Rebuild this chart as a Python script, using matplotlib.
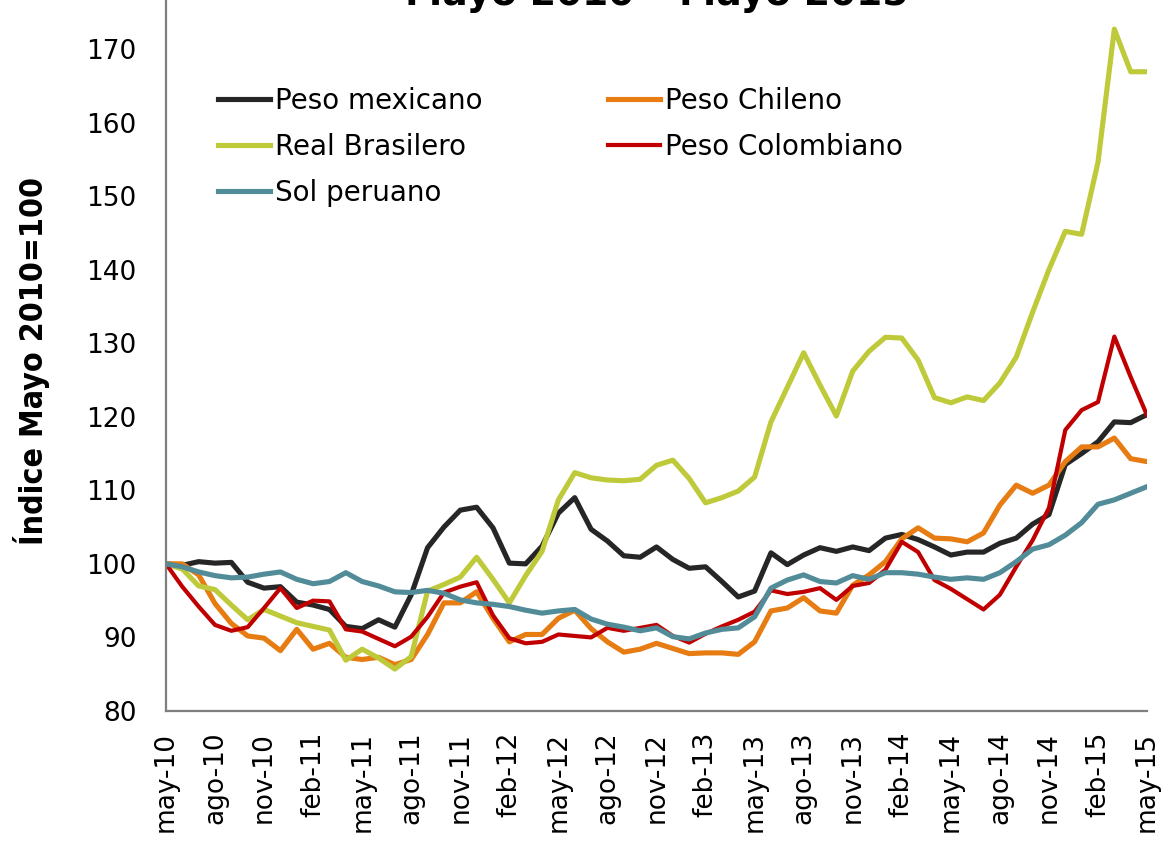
import numpy as np
import matplotlib
matplotlib.use("Agg")
import matplotlib.pyplot as plt
from matplotlib import font_manager

# monthly index, may-10 .. may-15 (may 2010 = 100)
mexicano = [100, 99.8, 100.3, 100.1, 100.2, 97.5, 96.7, 96.9, 94.8, 94.4,
            93.8, 91.5, 91.2, 92.4, 91.4, 95.8, 102.2, 105.0, 107.3, 107.7,
            104.9, 100.1, 100.0, 102.4, 106.9, 109.0, 104.7, 103.1, 101.1, 100.9,
            102.3, 100.6, 99.4, 99.6, 97.6, 95.5, 96.3, 101.5, 99.9, 101.2,
            102.2, 101.7, 102.3, 101.8, 103.5, 104.0, 103.3, 102.3, 101.2, 101.6,
            101.6, 102.8, 103.5, 105.4, 106.7, 113.5, 115.0, 116.6, 119.3, 119.2, 120.3]
chileno = [100, 100.0, 98.5, 94.6, 91.9, 90.2, 89.9, 88.2, 91.1, 88.4,
           89.2, 87.3, 87.0, 87.3, 86.3, 87.0, 90.4, 94.7, 94.7, 96.2,
           92.6, 89.4, 90.4, 90.4, 92.6, 93.7, 91.2, 89.4, 88.0, 88.4,
           89.2, 88.5, 87.8, 87.9, 87.9, 87.7, 89.4, 93.6, 94.0, 95.4,
           93.6, 93.3, 97.1, 98.5, 100.3, 103.4, 104.9, 103.5, 103.4, 103.0,
           104.2, 108.0, 110.7, 109.6, 110.7, 113.9, 115.9, 115.9, 117.1, 114.3, 113.9]
brasilero = [100, 99.3, 97.0, 96.5, 94.4, 92.4, 93.8, 92.9, 92.0, 91.5,
             91.0, 86.9, 88.4, 87.2, 85.7, 87.4, 96.3, 97.2, 98.2, 100.9,
             97.9, 94.7, 98.4, 101.7, 108.7, 112.4, 111.7, 111.4, 111.3, 111.5,
             113.4, 114.1, 111.6, 108.3, 109.0, 109.9, 111.8, 119.3, 124.0, 128.7,
             124.3, 120.1, 126.2, 128.9, 130.8, 130.7, 127.7, 122.6, 121.9, 122.7,
             122.2, 124.6, 128.1, 134.2, 140.0, 145.2, 144.8, 154.6, 172.7, 166.9, 166.9]
colombiano = [100, 96.9, 94.2, 91.7, 90.9, 91.4, 94.0, 96.7, 94.0, 95.0,
              94.9, 91.1, 90.8, 89.8, 88.8, 90.1, 92.8, 96.1, 96.9, 97.5,
              93.0, 89.9, 89.2, 89.4, 90.4, 90.2, 90.0, 91.3, 90.9, 91.3,
              91.7, 90.2, 89.3, 90.5, 91.5, 92.4, 93.5, 96.4, 95.9, 96.2,
              96.7, 95.1, 97.0, 97.4, 99.2, 103.0, 101.6, 97.8, 96.6, 95.2,
              93.8, 95.8, 99.6, 103.2, 107.6, 118.2, 120.9, 122.0, 130.9, 125.4, 120.2]
peruano = [100, 99.6, 98.9, 98.4, 98.1, 98.2, 98.6, 98.9, 97.9, 97.3,
           97.6, 98.8, 97.6, 97.0, 96.2, 96.1, 96.4, 96.0, 95.1, 94.7,
           94.5, 94.2, 93.7, 93.3, 93.6, 93.8, 92.5, 91.8, 91.4, 90.9,
           91.3, 90.1, 89.8, 90.6, 91.1, 91.3, 92.8, 96.7, 97.8, 98.5,
           97.6, 97.4, 98.4, 97.9, 98.8, 98.8, 98.6, 98.2, 97.9, 98.1,
           97.9, 98.8, 100.3, 102.0, 102.6, 103.9, 105.6, 108.1, 108.7, 109.6, 110.5]

tick_labels = ["may-10", "ago-10", "nov-10", "feb-11", "may-11", "ago-11", "nov-11",
               "feb-12", "may-12", "ago-12", "nov-12", "feb-13", "may-13", "ago-13",
               "nov-13", "feb-14", "may-14", "ago-14", "nov-14", "feb-15", "may-15"]

x = np.arange(len(mexicano))

fig = plt.figure(figsize=(11.67, 8.43), dpi=100)
# axes runs above the figure top (180 is off the picture, title is cut)
ax = fig.add_axes([0.1422, 0.1566, 0.8407, 0.8726])

l_mex, = ax.plot(x, mexicano, color="#262626", lw=3.7, label="Peso mexicano")
l_chi, = ax.plot(x, chileno, color="#E67C12", lw=3.7, label="Peso Chileno")
l_bra, = ax.plot(x, brasilero, color="#BECA3A", lw=3.7, label="Real Brasilero")
l_col, = ax.plot(x, colombiano, color="#C00000", lw=3.0, label="Peso Colombiano")
l_sol, = ax.plot(x, peruano, color="#528C98", lw=3.7, label="Sol peruano")

ax.set_xlim(0, 60)
ax.set_ylim(80, 180)
ax.set_yticks(np.arange(80, 171, 10))
ax.set_xticks(np.arange(0, 61, 3))
ax.set_xticklabels(tick_labels, rotation=90)
ax.tick_params(axis="both", length=0, labelsize=19)
ax.tick_params(axis="x", pad=15)
ax.tick_params(axis="y", pad=21)

for s in ["top", "right"]:
    ax.spines[s].set_visible(False)
for s in ["left", "bottom"]:
    ax.spines[s].set_color("#7f7f7f")
    ax.spines[s].set_linewidth(1.6)

# condensed bold if the system has it, otherwise plain DejaVu bold
condensed = any(f.name == "DejaVu Sans" and f.stretch == "condensed"
                for f in font_manager.fontManager.ttflist)
if condensed:
    ax.set_ylabel("Índice Mayo 2010=100", fontsize=23, fontweight="bold",
                  fontstretch="condensed")
else:
    ax.set_ylabel("Índice Mayo 2010=100", fontsize=21, fontweight="bold")
ax.yaxis.set_label_coords(-0.118, 0.476)

# order so that a 2-column legend reads row by row
ax.legend([l_mex, l_bra, l_sol, l_chi, l_col],
          ["Peso mexicano", "Real Brasilero", "Sol peruano", "Peso Chileno", "Peso Colombiano"],
          ncol=2, loc="upper left", bbox_to_anchor=(0.053, 0.848), frameon=False,
          fontsize=20, handlelength=1.87, handletextpad=0.2, columnspacing=4.5,
          labelspacing=0.64, borderpad=0, borderaxespad=0)

fig.text(0.5625, 0.9935, "Mayo 2010 – Mayo 2015", fontsize=27, fontweight="bold",
         ha="center", va="baseline")

fig.savefig("out.png", dpi=100)
